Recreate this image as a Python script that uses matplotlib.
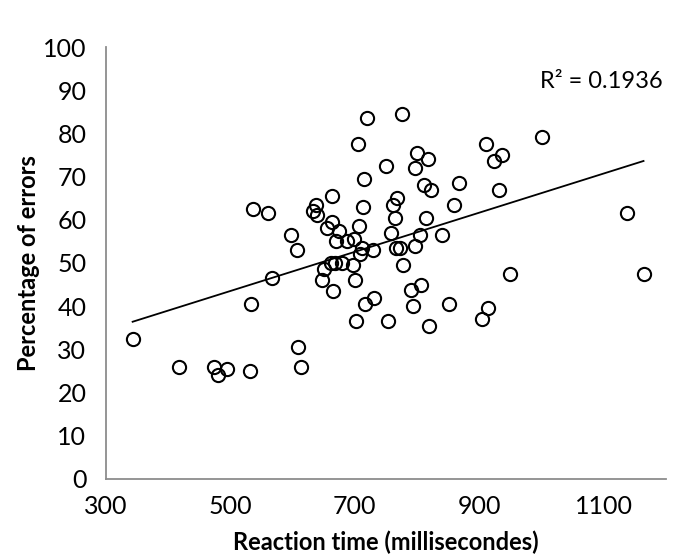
import numpy as np
import matplotlib.pyplot as plt

# reaction time (ms) and percentage of errors
reaction_time = [343, 418, 474, 481, 494, 531, 533, 537, 561, 567,
                 597, 607, 609, 613, 633, 638, 640, 648, 651, 655,
                 661, 663, 664, 665, 668, 670, 674, 680, 687, 697,
                 698, 701, 702, 705, 707, 709, 711, 713, 715, 717,
                 720, 729, 731, 750, 754, 758, 761, 764, 766, 768,
                 773, 776, 777, 791, 793, 796, 797, 800, 805, 806,
                 811, 815, 818, 820, 822, 840, 852, 860, 868, 905,
                 911, 914, 923, 932, 936, 950, 1001, 1137, 1164]
errors = [32.3, 26, 26, 24, 25.5, 25, 40.5, 62.5, 61.5, 46.5,
          56.5, 53, 30.5, 25.8, 62, 63.5, 61, 46, 48.5, 58,
          50, 59.5, 65.5, 43.5, 50, 55, 57.5, 50, 55, 49.5,
          55.5, 46, 36.5, 77.5, 58.5, 52, 53.5, 63, 69.5, 40.5,
          83.5, 53, 41.8, 72.5, 36.5, 57, 63.5, 60.5, 53.5, 65,
          53.5, 84.5, 49.5, 43.8, 40, 72, 54, 75.5, 56.5, 45,
          68, 60.5, 74, 35.5, 67, 56.5, 40.5, 63.5, 68.5, 37,
          77.5, 39.5, 73.5, 67, 75, 47.5, 79.2, 61.5, 47.5]

x_ticks = [300, 500, 700, 900, 1100]
y_ticks = list(range(0, 101, 10))

plt.rcParams['font.family'] = ['Lato', 'DejaVu Sans']

fig = plt.figure(figsize=(6.83, 5.60), dpi=100)
ax = fig.add_axes([0.155, 0.145, 0.82, 0.771])

ax.plot(reaction_time, errors, 'o', mfc='none', mec='black', mew=1.5, ms=9.5)

# linear trendline
slope, intercept = np.polyfit(reaction_time, errors, 1)
xs = np.array([min(reaction_time), max(reaction_time)])
ax.plot(xs, slope * xs + intercept, color='black', lw=1.3)
ax.text(1195, 92, 'R² = 0.1936', ha='right', va='center', fontsize=17)

ax.set_xlim(300, 1200)
ax.set_ylim(0, 100)
ax.set_xticks(x_ticks)
ax.set_yticks(y_ticks)
ax.tick_params(axis='both', length=0, labelsize=18)
ax.tick_params(axis='x', pad=12)
ax.tick_params(axis='y', pad=14)
for s in ['top', 'right']:
    ax.spines[s].set_visible(False)
for s in ['left', 'bottom']:
    ax.spines[s].set_color('#8c8c8c')
    ax.spines[s].set_linewidth(1.3)

ax.set_xlabel('Reaction time (millisecondes)', fontsize=17, fontweight='bold', labelpad=9)
ax.set_ylabel('Percentage of errors', fontsize=17, fontweight='bold', labelpad=2)

fig.savefig('out.png', dpi=100)
